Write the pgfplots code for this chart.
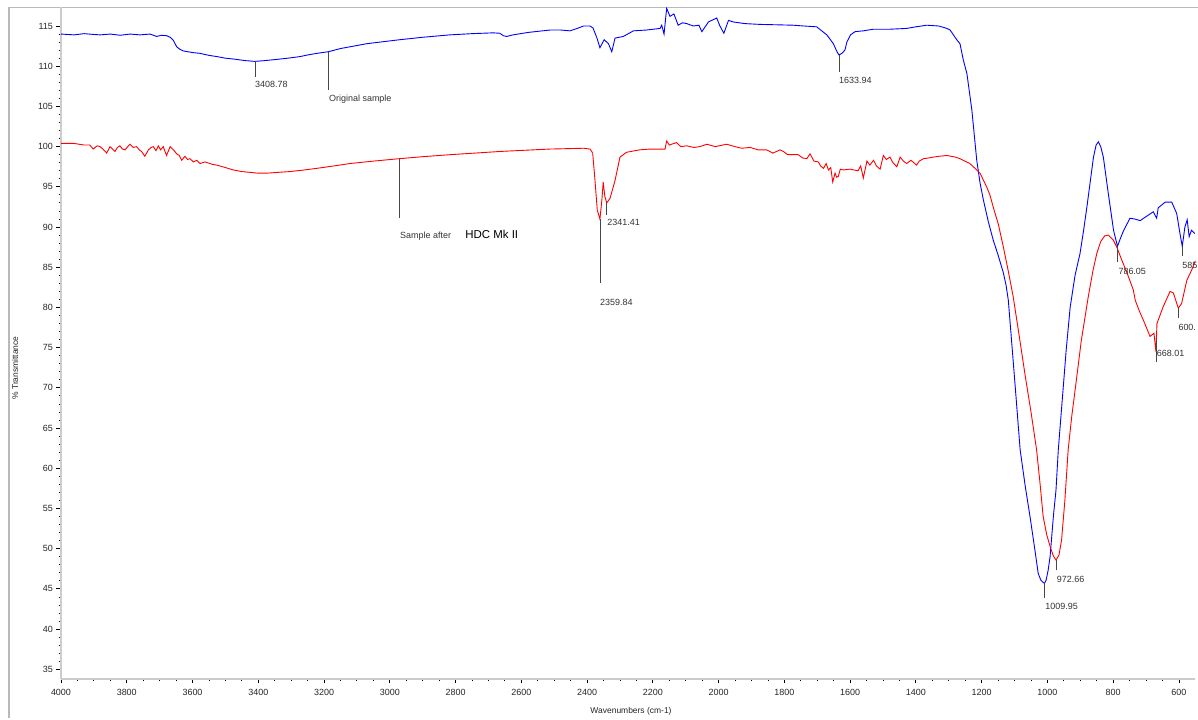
\documentclass[border=0pt]{standalone}
\usepackage{pgfplots}
\pgfplotsset{compat=1.18}
\usepackage{fontspec}
\setmainfont{Liberation Sans}
\definecolor{annot}{RGB}{70,70,70}
\begin{document}
\begin{tikzpicture}[x=1bp,y=1bp]
\useasboundingbox (0,0) rectangle (1198,720);
\fill[white] (0,0) rectangle (1198,720);
\draw[gray!55, line width=1.2bp] (9,2) -- (9,712.7) -- (1210,712.7);
\node[rotate=90, font=\fontsize{8.5}{10}\selectfont, text=black!85] at (15,352) {\% Transmittance};
\node[font=\fontsize{8.5}{10}\selectfont, text=black!85] at (631,9) {Wavenumbers (cm-1)};
\begin{axis}[
  at={(61bp,41bp)}, anchor=south west, scale only axis,
  width=1134.4bp, height=671.7bp,
  x dir=reverse, xmin=550, xmax=4000, ymin=33.8, ymax=117.33,
  axis x line*=bottom, axis y line*=left,
  axis line style={-, draw=gray!40, line width=2.6bp},
  xtick={600,800,...,4000}, minor x tick num=3,
  ytick={35,40,...,115}, minor y tick num=4,
  tick align=outside,
  major tick length=4.5bp, minor tick length=2bp,
  every tick/.style={black, line width=0.9bp},
  tick label style={font=\fontsize{9}{10}\selectfont, text=black!85},
  /pgf/number format/assume math mode=true,
  /pgf/number format/1000 sep={},
  xticklabel style={yshift=-2bp},
  clip mode=individual,
]
\addplot[blue, line width=0.9bp] coordinates {
(4000,114.0) (3960,113.9) (3930,114.05) (3900,113.95) (3881,113.9) (3850,114.0)
(3820,113.85) (3790,114.0) (3760,113.9) (3729,114.0) (3709,113.7) (3695,113.85)
(3679,113.8) (3668,113.6) (3658,113.2) (3648,112.4) (3638,112.1) (3628,111.9)
(3600,111.7) (3577,111.6) (3550,111.35) (3526,111.2) (3500,111.0) (3476,110.9)
(3440,110.7) (3410,110.6) (3380,110.7) (3344,110.85) (3310,111.0) (3273,111.2)
(3250,111.4) (3222,111.6) (3187,111.8) (3150,112.2) (3110,112.5) (3070,112.8)
(3020,113.05) (2969,113.3) (2900,113.6) (2817,113.9) (2750,114.05) (2686,114.15)
(2665,114.1) (2655,113.8) (2645,113.7) (2625,113.9) (2580,114.2) (2513,114.5)
(2480,114.5) (2452,114.4) (2430,114.7) (2411,115.0) (2391,115.0) (2382,114.75)
(2370,113.5) (2361,112.3) (2348,113.3) (2335,112.8) (2325,111.8) (2315,113.5)
(2290,113.7) (2259,114.4) (2220,114.5) (2178,114.7) (2173,115.1) (2166,114.0)
(2158,117.2) (2148,116.2) (2136,116.5) (2123,115.1) (2110,115.4) (2097,115.3)
(2077,115.0) (2060,115.1) (2051,114.3) (2031,115.5) (2006,116.0) (1996,115.0)
(1984,114.1) (1970,115.7) (1955,115.5) (1920,115.3) (1874,115.2) (1820,115.15)
(1773,115.1) (1740,115.0) (1702,114.9) (1671,113.9) (1651,112.8) (1640,111.8)
(1634,111.4) (1625,111.6) (1616,112.0) (1610,113.0) (1599,113.9) (1585,114.3)
(1560,114.4) (1530,114.6) (1480,114.6) (1428,114.7) (1400,114.9) (1367,115.1)
(1330,115.0) (1306,114.7) (1296,114.5) (1276,113.3) (1266,112.8) (1256,110.8)
(1245,109.1) (1230,104.6) (1215,98.3) (1205,95.5) (1195,93.4) (1180,90.7)
(1165,88.4) (1150,86.5) (1134,84.3) (1126,82.8) (1119,80.9) (1108,75.3)
(1096,69.1) (1083,62.3) (1068,57.9) (1053,54.0) (1038,49.8) (1028,46.9)
(1020,46.1) (1013,45.8) (1009,45.7) (1004,46.1) (998,47.3) (992,49.0)
(982,54.0) (974,57.3) (967,62.3) (955,68.5) (943,74.7) (931,80.0)
(916,84.0) (901,86.7) (890,89.6) (880,92.5) (870,95.6) (860,98.7)
(852,100.2) (845,100.6) (838,100.0) (830,98.7) (815,94.2) (799,89.6)
(787,87.6) (778,88.6) (768,89.6) (749,91.1) (735,91.0) (718,90.8)
(700,91.3) (678,91.9) (668,91.1) (663,92.4) (642,93.1) (622,93.1)
(607,91.7) (597,89.2) (590,87.6) (582,90.0) (575,90.9) (569,88.8)
(562,89.6) (552,89.2)
};
\addplot[red, line width=0.9bp] coordinates {
(4000,100.4) (3960,100.4) (3930,100.2) (3912,100.2) (3902,99.7) (3890,100.1)
(3881,100.0) (3870,99.6) (3861,99.2) (3851,100.0) (3843,99.7) (3836,99.4)
(3828,99.9) (3821,100.1) (3813,99.7) (3805,99.6) (3797,100.0) (3790,100.3)
(3780,99.9) (3770,100.0) (3762,99.6) (3755,99.4) (3745,98.8) (3734,99.6)
(3726,99.9) (3719,100.0) (3711,99.5) (3704,100.1) (3697,99.6) (3689,100.0)
(3679,98.9) (3668,100.0) (3658,99.6) (3648,99.1) (3640,98.9) (3633,98.3)
(3623,98.8) (3615,98.4) (3608,98.5) (3597,98.1) (3587,98.3) (3577,97.9)
(3562,98.1) (3540,97.8) (3526,97.7) (3500,97.4) (3476,97.1) (3450,96.9)
(3425,96.8) (3400,96.7) (3374,96.7) (3340,96.8) (3304,96.9) (3260,97.1)
(3222,97.3) (3170,97.6) (3121,97.9) (3050,98.2) (2972,98.5) (2900,98.75)
(2817,99.0) (2740,99.2) (2665,99.4) (2590,99.55) (2513,99.7) (2460,99.75)
(2411,99.8) (2391,99.7) (2383,99.2) (2376,95.8) (2369,92.1) (2361,91.0)
(2355,93.4) (2351,95.6) (2346,93.8) (2340,93.0) (2330,93.6) (2315,95.8)
(2300,98.7) (2280,99.3) (2240,99.6) (2209,99.7) (2163,99.7) (2158,100.7)
(2150,100.2) (2143,100.3) (2128,100.5) (2115,100.0) (2097,100.1) (2075,99.9)
(2057,100.0) (2036,100.3) (2010,100.0) (1976,100.3) (1950,100.0) (1930,99.8)
(1904,99.9) (1880,99.6) (1854,99.6) (1835,99.2) (1813,99.6) (1803,99.4)
(1790,99.0) (1773,99.0) (1758,99.0) (1745,98.6) (1732,98.5) (1722,99.1)
(1710,98.2) (1697,98.1) (1690,97.6) (1681,97.3) (1673,97.9) (1666,97.1)
(1659,97.4) (1653,95.6) (1646,96.7) (1641,96.2) (1636,96.3) (1630,97.2)
(1621,97.1) (1601,97.2) (1576,97.0) (1568,97.6) (1560,96.1) (1549,98.2)
(1540,97.7) (1529,98.3) (1520,97.6) (1509,97.2) (1499,98.9) (1490,98.4)
(1479,98.7) (1470,98.0) (1458,97.5) (1448,98.7) (1438,98.2) (1428,97.9)
(1415,98.3) (1398,97.7) (1390,98.2) (1377,98.5) (1360,98.6) (1347,98.7)
(1330,98.8) (1306,98.9) (1280,98.7) (1266,98.5) (1256,98.3) (1236,97.9)
(1215,97.1) (1205,96.7) (1185,95.0) (1175,94.0) (1165,92.5) (1149,90.3)
(1134,87.5) (1119,84.5) (1104,81.3) (1086,76.5) (1068,71.6) (1050,67.0)
(1033,62.3) (1022,57.9) (1013,54.0) (1002,51.7) (992,50.3) (982,49.1)
(974,48.6) (965,49.2) (957,51.1) (947,56.0) (937,62.3) (926,66.5)
(916,69.7) (897,75.9) (876,81.3) (862,84.5) (850,86.7) (838,88.2)
(826,88.9) (815,89.0) (800,88.4) (789,87.5) (775,86.0) (758,84.3)
(739,82.2) (733,80.9) (720,79.5) (708,78.4) (688,76.4) (676,76.8)
(670,74.5) (667,78.0) (648,80.1) (627,82.0) (617,81.8) (602,79.9)
(592,80.5) (576,83.4) (562,84.6) (550,85.8)
};
\begin{scope}[every node/.style={anchor=base west, inner sep=0pt, font=\fontsize{9}{10}\selectfont, text=black!80}]
\draw[annot, line width=0.8bp] (axis cs:3408.78,110.6) -- (axis cs:3408.78,108.66);
\node at (axis cs:3410,107.38) {3408.78};
\draw[annot, line width=0.8bp] (axis cs:3187,111.8) -- (axis cs:3187,107.0);
\node at (axis cs:3185,105.67) {Original sample};
\draw[annot, line width=0.8bp] (axis cs:1633.94,111.4) -- (axis cs:1633.94,109.3);
\node at (axis cs:1634,107.87) {1633.94};
\draw[annot, line width=0.8bp] (axis cs:2341.41,93.0) -- (axis cs:2341.41,91.5);
\node at (axis cs:2339,90.25) {2341.41};
\draw[annot, line width=0.8bp] (axis cs:2359.84,91.0) -- (axis cs:2359.84,83.0);
\node at (axis cs:2361,80.22) {2359.84};
\draw[annot, line width=0.8bp] (axis cs:2972,98.5) -- (axis cs:2972,91.1);
\node at (axis cs:2969,88.6) {Sample after};
\node[font=\fontsize{11.5}{13}\selectfont, text=black] at (axis cs:2771,88.6) {HDC Mk II};
\draw[annot, line width=0.8bp] (axis cs:786.05,87.6) -- (axis cs:786.05,85.6);
\node at (axis cs:784.4,84.15) {786.05};
\draw[annot, line width=0.8bp] (axis cs:590,87.6) -- (axis cs:590,86.4);
\node at (axis cs:590,84.86) {585};
\draw[annot, line width=0.8bp] (axis cs:602,79.9) -- (axis cs:602,78.7);
\node at (axis cs:602,77.19) {600.};
\draw[annot, line width=0.8bp] (axis cs:668.01,76.0) -- (axis cs:668.01,73.2);
\node at (axis cs:668,73.88) {668.01};
\draw[annot, line width=0.8bp] (axis cs:972.66,48.6) -- (axis cs:972.66,47.3);
\node at (axis cs:972,45.8) {972.66};
\draw[annot, line width=0.8bp] (axis cs:1009.95,45.7) -- (axis cs:1009.95,43.9);
\node at (axis cs:1007,42.45) {1009.95};
\end{scope}
\end{axis}
\end{tikzpicture}
\end{document}
